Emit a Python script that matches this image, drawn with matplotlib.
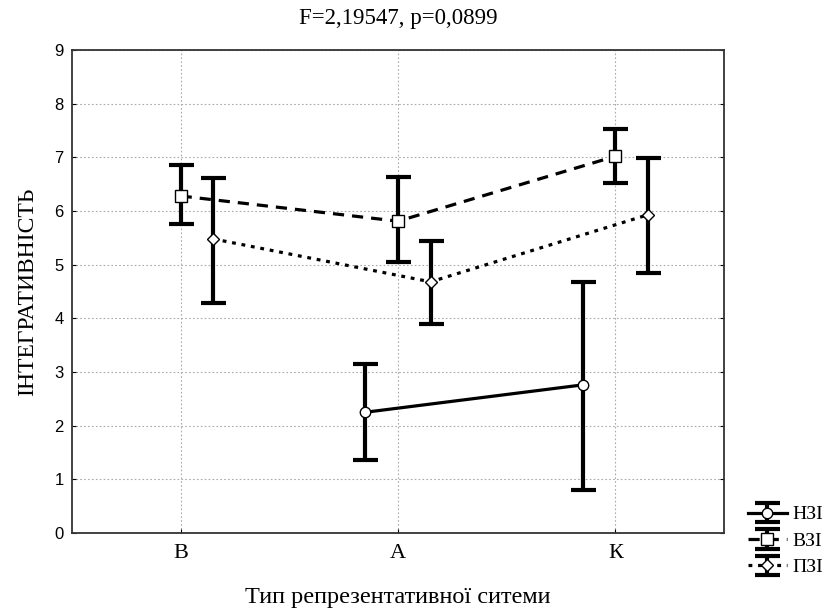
import numpy as np
import matplotlib.pyplot as plt

# категорії та дані (середні та межі довірчих інтервалів)
categories = ['В', 'А', 'К']
groups = ['НЗІ', 'ВЗІ', 'ПЗІ']

nzi_mean = [np.nan, 2.25, 2.76]
nzi_low = [np.nan, 1.36, 0.80]
nzi_high = [np.nan, 3.15, 4.68]

vzi_mean = [6.28, 5.81, 7.02]
vzi_low = [5.76, 5.05, 6.52]
vzi_high = [6.86, 6.63, 7.53]

pzi_mean = [5.48, 4.68, 5.93]
pzi_low = [4.28, 3.89, 4.84]
pzi_high = [6.61, 5.44, 6.98]

serif = 'Liberation Serif'
plt.rcParams['font.family'] = 'Liberation Sans'

fig = plt.figure(figsize=(8.34, 6.12), dpi=100)
ax = fig.add_axes([72/834, 1-533/612, (724-72)/834, (533-50)/612])

x = np.arange(len(categories))
series = [
    (nzi_mean, nzi_low, nzi_high, -0.15, '-', 'o', 7.5),
    (vzi_mean, vzi_low, vzi_high, 0.0, (0, (3.5, 2.5)), 's', 8),
    (pzi_mean, pzi_low, pzi_high, 0.15, (0, (1.2, 1.8)), 'D', 6.5),
]
handles = []
for (m, lo, hi, off, ls, mk, ms), name in zip(series, groups):
    m = np.array(m); lo = np.array(lo); hi = np.array(hi)
    yerr = [m - lo, hi - m]
    h = ax.errorbar(x + off, m, yerr=yerr, fmt=mk, ls=ls, color='black',
                    lw=2.3, elinewidth=3, capsize=9, capthick=3,
                    mfc='white', mec='black', ms=ms, label=name,
                    zorder=3)
    h[0].set_markeredgewidth(1)
    handles.append(h)

ax.set_xlim(-0.5, 2.5)
ax.set_ylim(0, 9)
ax.tick_params(direction='in', length=3, top=False, right=True)
ax.tick_params(axis='x', pad=8)
ax.tick_params(axis='y', pad=6, labelsize=12)
ax.set_yticks(range(0, 10))
ax.set_xticks(x)
ax.set_xticklabels(categories, family=serif, fontsize=16)
ax.grid(True, ls=(0, (1.5, 2)), color='#aaaaaa', lw=0.8)
for s in ax.spines.values():
    s.set_linewidth(1.3)
    s.set_color('#333333')

ax.set_title('F=2,19547, p=0,0899', family=serif, fontsize=16.5, pad=19)
ax.set_ylabel('ІНТЕГРАТИВНІСТЬ', family=serif, fontsize=17, labelpad=12)
ax.set_xlabel('Тип репрезентативної ситеми', family=serif, fontsize=17.5,
              labelpad=17)

fig.legend(handles=handles, labels=groups, loc='upper left',
           bbox_to_anchor=(738/834, 1-496/612), frameon=False,
           prop={'family': serif, 'size': 14}, handlelength=2.0,
           handletextpad=0.3, labelspacing=0.45, borderpad=0)

fig.savefig('out.png', dpi=100)
